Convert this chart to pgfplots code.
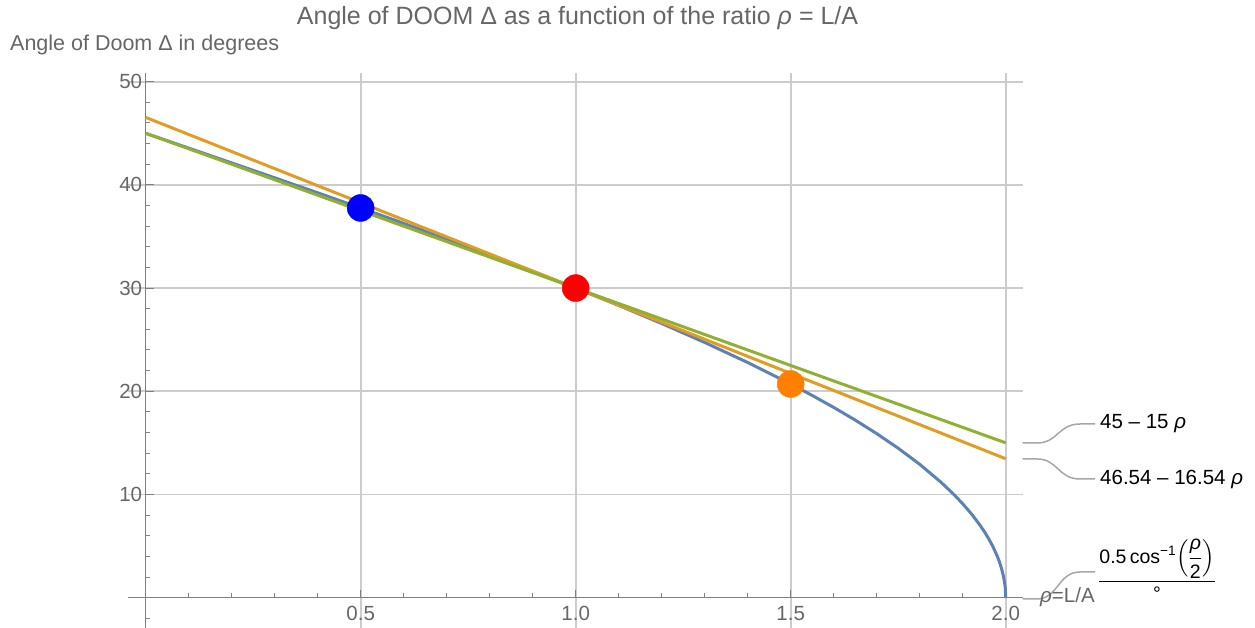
\documentclass[border=0pt]{standalone}
\usepackage{amsmath}
\usepackage{fontspec}
\setmainfont{Liberation Sans}
\usepackage{pgfplots}
\pgfplotsset{compat=1.18}
\definecolor{mblue}{rgb}{0.368417,0.506779,0.709798}
\definecolor{morange}{rgb}{0.880722,0.611041,0.142051}
\definecolor{mgreen}{rgb}{0.560181,0.691569,0.194885}
\definecolor{ptorange}{rgb}{1,0.5,0}
\definecolor{txtgray}{gray}{0.4}
\definecolor{axgray}{gray}{0.5}
\definecolor{gridgray}{gray}{0.8}
\definecolor{callgray}{gray}{0.65}
\newcommand{\lblfont}{\fontsize{20.5}{24}\selectfont}
\begin{document}
\begin{tikzpicture}
\begin{axis}[
  at={(128pt,0pt)}, anchor=south west,
  scale only axis, width=894.7pt, height=555.3pt,
  xmin=-0.041, xmax=2.0395, ymin=-2.94, ymax=50.87,
  axis lines=middle,
  axis line style={-, draw=axgray, line width=1.2pt},
  xtick={0.5,1,1.5,2}, ytick={10,20,30,40,50},
  minor xtick={0.1,0.2,0.3,0.4,0.6,0.7,0.8,0.9,1.1,1.2,1.3,1.4,1.6,1.7,1.8,1.9},
  minor ytick={-2,2,4,6,8,12,14,16,18,22,24,26,28,32,34,36,38,42,44,46,48},
  tick align=inside,
  major tick length=8pt, minor tick length=4.5pt,
  tick style={draw=axgray, line width=1pt},
  grid=major,
  major grid style={draw=gridgray, line width=1.7pt},
  tick label style={font=\lblfont, text=txtgray},
  /pgf/number format/assume math mode=true,
  xticklabel style={yshift=-5pt, /pgf/number format/.cd, fixed, fixed zerofill, precision=1},
]
\addplot[mblue, line width=3pt] coordinates {
(0,45) (0.1,43.567) (0.2,42.130) (0.3,40.686) (0.4,39.232) (0.5,37.761)
(0.6,36.271) (0.7,34.757) (0.8,33.211) (0.9,31.628) (1.0,30.000)
(1.1,28.317) (1.2,26.565) (1.3,24.729) (1.4,22.786) (1.5,20.705)
(1.55,19.595) (1.6,18.435) (1.65,17.207) (1.7,15.894) (1.75,14.478)
(1.8,12.921) (1.85,11.166) (1.88,9.974) (1.9,9.097) (1.92,8.130)
(1.94,7.035) (1.95,6.420) (1.96,5.739) (1.97,4.968) (1.98,4.055)
(1.985,3.510) (1.99,2.866) (1.995,2.027) (1.998,1.281) (1.999,0.906) (2.0,0)
};
\addplot[morange, line width=3pt] coordinates {(0,46.54) (2,13.46)};
\addplot[mgreen, line width=3pt] coordinates {(0,45) (2,15)};
\addplot[only marks, mark=*, mark size=13.5pt, mark options={draw=blue, fill=blue}] coordinates {(0.5,37.761)};
\addplot[only marks, mark=*, mark size=13.5pt, mark options={draw=red, fill=red}] coordinates {(1,30)};
\addplot[only marks, mark=*, mark size=13.5pt, mark options={draw=ptorange, fill=ptorange}] coordinates {(1.5,20.705)};
\end{axis}
\begin{scope}[x=1pt, y=-1pt, yshift=628pt]
\draw[callgray, line width=1.5pt] (1022.7,443) -- (1037,443) .. controls (1058,443) and (1058,424) .. (1080,424) -- (1095,424);
\draw[callgray, line width=1.5pt] (1022.7,459) -- (1037,459) .. controls (1058,459) and (1058,479) .. (1080,479) -- (1095,479);
\draw[callgray, line width=1.5pt] (1022.7,599) -- (1037,599) .. controls (1058,599) and (1058,572) .. (1080,572) -- (1095,572);
\node[anchor=west, font=\lblfont, inner sep=0pt] at (1100,424) {45 – 15 \textit{ρ}};
\node[anchor=west, font=\lblfont, inner sep=0pt] at (1100,479) {46.54 – 16.54 \textit{ρ}};
\node[anchor=west, font=\lblfont, text=txtgray, inner sep=0pt] at (1040,597) {\textit{ρ}=L/A};
\node[font=\fontsize{19.5}{23}\selectfont, inner sep=0pt] at (1157,570) {$\dfrac{\text{0.5\,cos}^{\text{−1}}\!\left(\dfrac{\textit{ρ}}{\text{2}}\right)}{\text{°}}$};
\node[font=\fontsize{25}{30}\selectfont, text=txtgray, inner sep=0pt] at (577.5,18) {Angle of DOOM Δ as a function of the ratio \textit{ρ} = L/A};
\node[anchor=west, font=\fontsize{21.5}{26}\selectfont, text=txtgray, inner sep=0pt] at (10,45) {Angle of Doom Δ in degrees};
\end{scope}
\pgfresetboundingbox
\useasboundingbox (0,0) rectangle (1255pt,628pt);
\end{tikzpicture}
\end{document}
